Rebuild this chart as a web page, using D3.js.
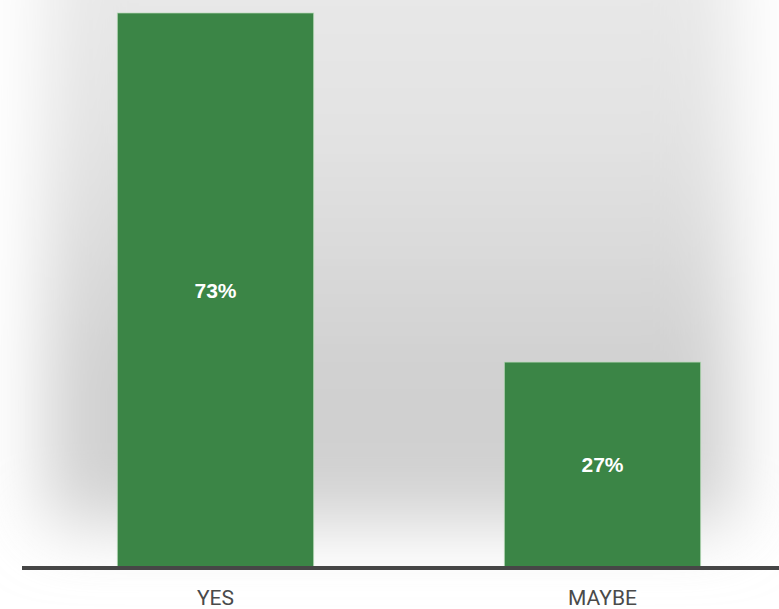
<!DOCTYPE html>
<html>
<head>
<meta charset="utf-8">
<script src="https://cdn.jsdelivr.net/npm/d3@7"></script>
<style>
  html, body { margin: 0; padding: 0; background: #ffffff; }
  svg { display: block; }
</style>
</head>
<body>
<svg id="chart" width="779" height="609"></svg>
<script>
// Survey answers and their shares (percent)
const categories = ["YES", "MAYBE"];
const values = [73, 27];
const valueLabels = ["73%", "27%"];

const width = 779, height = 609;
const baseline = 567;

const svg = d3.select("#chart");
const defs = svg.append("defs");

// Soft grey backdrop behind the bars
const blur = defs.append("filter").attr("id", "soft")
  .attr("filterUnits", "userSpaceOnUse")
  .attr("x", -200).attr("y", -300).attr("width", 1200).attr("height", 1100);
blur.append("feGaussianBlur").attr("stdDeviation", 34);

const grad = defs.append("linearGradient").attr("id", "shade")
  .attr("x1", 0).attr("y1", 0).attr("x2", 0).attr("y2", 1);
grad.append("stop").attr("offset", "0%").attr("stop-color", "#ebebeb");
grad.append("stop").attr("offset", "40%").attr("stop-color", "#e2e2e2");
grad.append("stop").attr("offset", "78%").attr("stop-color", "#cfcfcf");
grad.append("stop").attr("offset", "100%").attr("stop-color", "#d2d2d2");

svg.append("rect")
  .attr("x", 45).attr("y", -100)
  .attr("width", 690).attr("height", 625)
  .attr("fill", "url(#shade)")
  .attr("filter", "url(#soft)");

const x = d3.scaleBand()
  .domain(categories)
  .range([22, 796])
  .paddingInner(0.493)
  .paddingOuter(0.2465);

const y = d3.scaleLinear()
  .domain([0, 73])
  .range([baseline, 13]);

const data = categories.map((c, i) => ({ cat: c, value: values[i], label: valueLabels[i] }));

svg.append("g").selectAll("rect")
  .data(data)
  .join("rect")
  .attr("x", d => x(d.cat))
  .attr("y", d => y(d.value))
  .attr("width", x.bandwidth())
  .attr("height", d => baseline - y(d.value))
  .attr("fill", "#3b8546")
  .attr("stroke", "#b9dab9")
  .attr("stroke-opacity", 0.7)
  .attr("stroke-width", 1);

svg.append("g").selectAll("text")
  .data(data)
  .join("text")
  .attr("x", d => x(d.cat) + x.bandwidth() / 2)
  .attr("y", d => (y(d.value) + baseline) / 2)
  .attr("dy", "0.36em")
  .attr("text-anchor", "middle")
  .attr("font-family", "'Liberation Sans', Arial, sans-serif")
  .attr("font-weight", "bold")
  .attr("font-size", 21)
  .attr("fill", "#ffffff")
  .text(d => d.label);

// Category axis along the baseline
const axis = svg.append("g")
  .attr("transform", `translate(0,${baseline + 1})`)
  .call(d3.axisBottom(x).tickSize(0).tickPadding(22));
axis.select(".domain")
  .attr("d", `M22,0H${width}`)
  .attr("stroke", "#464646")
  .attr("stroke-width", 4);
axis.selectAll(".tick text")
  .attr("font-family", "Roboto, sans-serif")
  .attr("font-size", 21)
  .attr("fill", "#4a4a4a");
</script>
</body>
</html>
